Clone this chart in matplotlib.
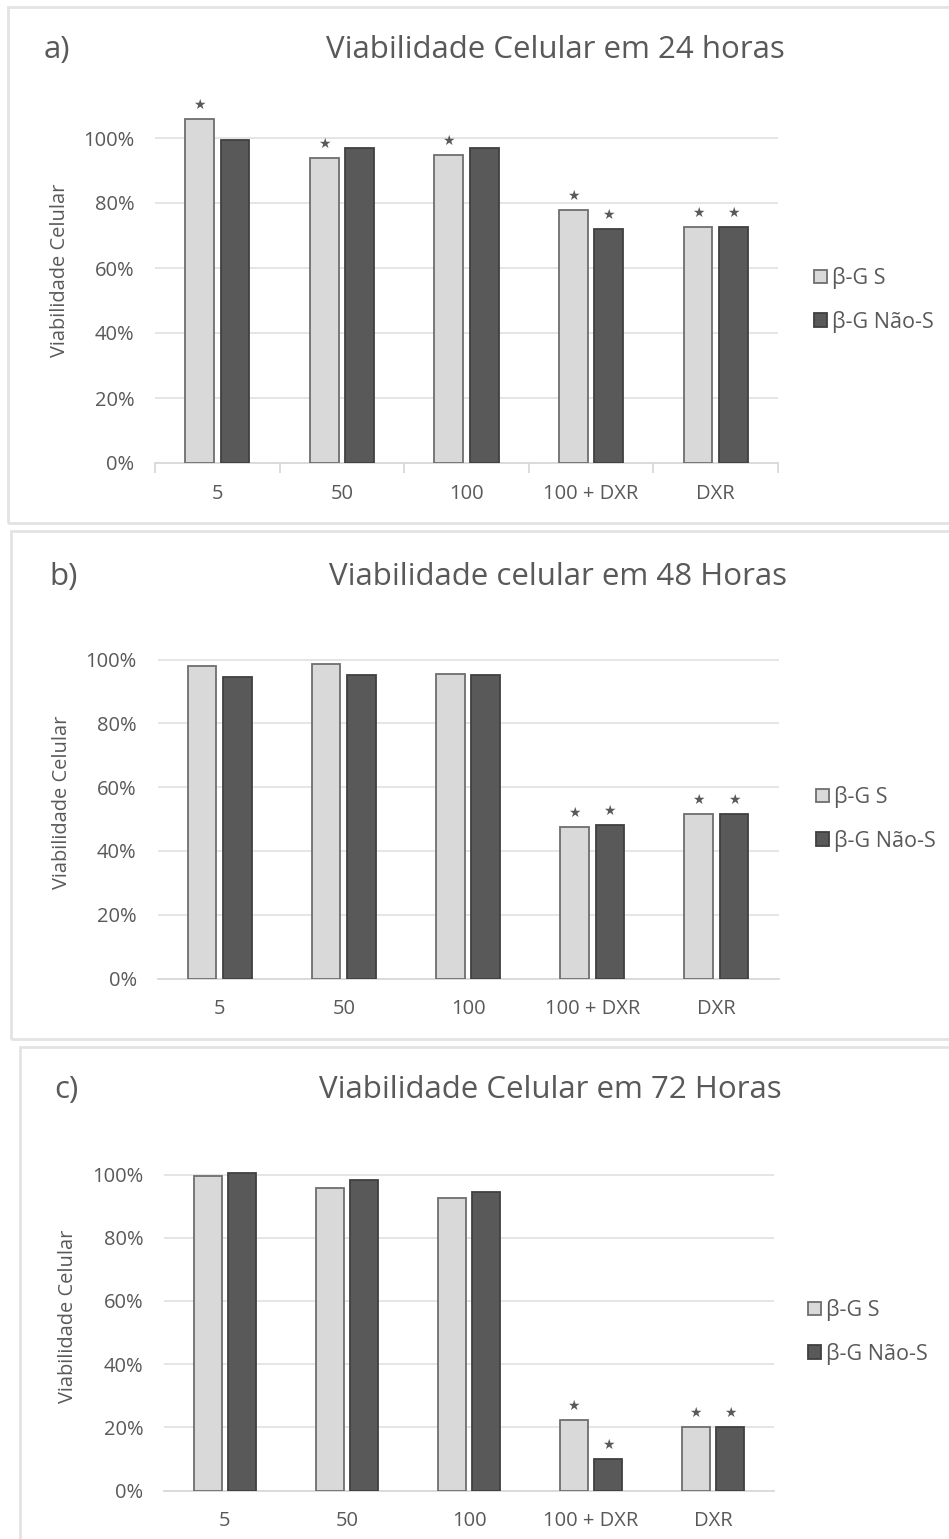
import matplotlib
matplotlib.use("Agg")
import matplotlib.pyplot as plt
from matplotlib.patches import Rectangle
from matplotlib.ticker import FixedLocator, PercentFormatter

categories = ["5", "50", "100", "100 + DXR", "DXR"]
series_names = ["β-G S", "β-G Não-S"]

titles = ["Viabilidade Celular em 24 horas",
          "Viabilidade celular em 48 Horas",
          "Viabilidade Celular em 72 Horas"]
panel_labels = ["a)", "b)", "c)"]

# values (fraction of control)
s24 = [1.058, 0.939, 0.949, 0.780, 0.727]
n24 = [0.994, 0.970, 0.970, 0.720, 0.727]
s48 = [0.981, 0.986, 0.956, 0.475, 0.516]
n48 = [0.945, 0.950, 0.950, 0.481, 0.516]
s72 = [0.995, 0.957, 0.925, 0.222, 0.201]
n72 = [1.006, 0.982, 0.944, 0.099, 0.201]

# significance stars
star_s24 = [True, True, True, True, True]
star_n24 = [False, False, False, True, True]
star_s48 = [False, False, False, True, True]
star_n48 = [False, False, False, True, True]
star_s72 = [False, False, False, True, True]
star_n72 = [False, False, False, True, True]

yticks = [0, 0.2, 0.4, 0.6, 0.8, 1.0]

W, H = 949, 1539
fig = plt.figure(figsize=(W / 100, H / 100), dpi=100)
fig.patch.set_facecolor("white")

TXT = "#595959"
LIGHT = "#d9d9d9"
DARK = "#595959"
FONT = ["Open Sans", "DejaVu Sans"]

def fx(x):
    return x / W

def fy(y):
    return 1 - y / H

# layout per panel (pixel coords)
panels = [
    dict(left=155, right=778, y0=463, y100=138, frame=(8, 7, 523),
         title=(555, 50), lab=(44, 50), ylab=(60, 270), leg=(814, 300),
         xticks_marks=True, s=s24, n=n24, ss=star_s24, sn=star_n24),
    dict(left=157.5, right=778.5, y0=978.5, y100=659.5, frame=(11, 531, 1039),
         title=(558, 577), lab=(49, 577), ylab=(62, 802), leg=(816, 819),
         xticks_marks=False, s=s48, n=n48, ss=star_s48, sn=star_n48),
    dict(left=164, right=774, y0=1490.5, y100=1174.5, frame=(20, 1047, 1600),
         title=(550, 1090), lab=(54, 1090), ylab=(68, 1316), leg=(808, 1332),
         xticks_marks=False, s=s72, n=n72, ss=star_s72, sn=star_n72),
]

YMAX = 1.15
bw = 0.23
off = 0.142

for i, p in enumerate(panels):
    # frame
    fl, ft, fb = p["frame"]
    fig.add_artist(Rectangle((fx(fl), fy(fb)), fx(W + 50 - fl), (fb - ft) / H,
                             transform=fig.transFigure, facecolor="none",
                             edgecolor="#e3e3e3", linewidth=2.0, zorder=0))
    top = p["y0"] - YMAX * (p["y0"] - p["y100"])
    ax = fig.add_axes([fx(p["left"]), fy(p["y0"]), (p["right"] - p["left"]) / W,
                       (p["y0"] - top) / H])
    ax.set_xlim(-0.5, len(categories) - 0.5)
    ax.set_ylim(0, YMAX)
    xs = list(range(len(categories)))
    b1 = ax.bar([x - off for x in xs], p["s"], width=bw, color=LIGHT,
                edgecolor="#6e6e6e", linewidth=1.3, label=series_names[0], zorder=3)
    b2 = ax.bar([x + off for x in xs], p["n"], width=bw, color=DARK,
                edgecolor="#404040", linewidth=1.3, label=series_names[1], zorder=3)
    for x, v, st in zip(xs, p["s"], p["ss"]):
        if st:
            ax.annotate("★", xy=(x - off, v), xytext=(0, 5), textcoords="offset points",
                        ha="center", va="bottom", fontsize=10, color=TXT,
                        family=["DejaVu Sans"])
    for x, v, st in zip(xs, p["n"], p["sn"]):
        if st:
            ax.annotate("★", xy=(x + off, v), xytext=(0, 5), textcoords="offset points",
                        ha="center", va="bottom", fontsize=10, color=TXT,
                        family=["DejaVu Sans"])
    ax.yaxis.set_major_locator(FixedLocator(yticks))
    ax.yaxis.set_major_formatter(PercentFormatter(1.0, decimals=0))
    ax.grid(axis="y", color="#e3e3e3", linewidth=1.3, zorder=0)
    ax.set_axisbelow(True)
    for sp in ["top", "right", "left"]:
        ax.spines[sp].set_visible(False)
    ax.spines["bottom"].set_color("#d9d9d9")
    ax.spines["bottom"].set_linewidth(1.3)
    ax.tick_params(axis="y", length=0, pad=15, labelsize=14.5, labelcolor=TXT)
    ax.set_xticks(xs)
    ax.set_xticklabels(categories)
    ax.tick_params(axis="x", length=0, pad=15, labelsize=14.5, labelcolor=TXT)
    if p["xticks_marks"]:
        ax.set_xticks([x - 0.5 for x in range(len(categories) + 1)], minor=True)
        ax.tick_params(axis="x", which="minor", length=7, color="#d9d9d9", width=1.3)
    for lab in ax.get_xticklabels() + ax.get_yticklabels():
        lab.set_family(FONT)
    ax.patch.set_alpha(0)

    fig.text(fx(p["title"][0]), fy(p["title"][1]), titles[i], ha="center", va="center",
             fontsize=22.5, color=TXT, family=FONT)
    fig.text(fx(p["lab"][0]), fy(p["lab"][1]), panel_labels[i], ha="left", va="center",
             fontsize=22.5, color=TXT, family=FONT)
    fig.text(fx(p["ylab"][0]), fy(p["ylab"][1]), "Viabilidade Celular", ha="center",
             va="center", rotation=90, fontsize=14.4, color=TXT, family=FONT)
    leg = fig.legend(handles=[b1, b2], labels=series_names, loc="center left",
                     bbox_to_anchor=(fx(p["leg"][0]), fy(p["leg"][1])),
                     frameon=False, handlelength=0.6, handleheight=0.6,
                     handletextpad=0.25, labelspacing=1.0, borderaxespad=0,
                     borderpad=0, prop={"family": FONT, "size": 15.5})
    for t in leg.get_texts():
        t.set_color(TXT)

fig.savefig("out.png", dpi=100, facecolor="white")
